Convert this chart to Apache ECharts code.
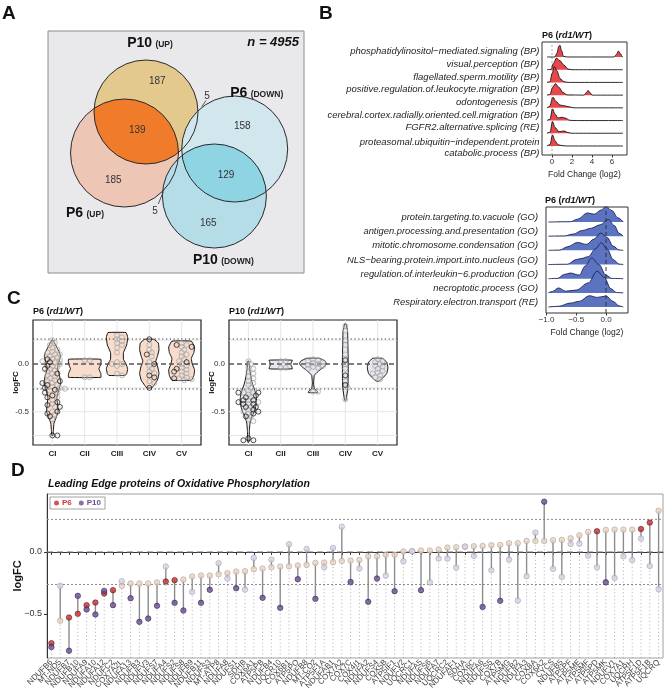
<!DOCTYPE html>
<html><head><meta charset="utf-8">
<script src="https://cdn.jsdelivr.net/npm/echarts@6/dist/echarts.min.js"></script>
<style>html,body{margin:0;padding:0;background:#fff}#c{width:666px;height:695px}</style>
</head><body><div id="c"></div>
<script>
// ================= DATA =================
// Panel A – Venn counts
const vennSetNames = ['P10', 'P6', 'P6', 'P10'];
const vennSetDirs = ['UP', 'UP', 'DOWN', 'DOWN'];
const vennRegionCounts = [187, 139, 185, 158, 129, 165, 5, 5];
const vennTotal = 4955;

// Panel B – ridgelines (density: [log2FC, relative height])
const ridgeUpTerms = [
  'phosphatidylinositol\u2212mediated.signaling (BP)',
  'visual.perception (BP)',
  'flagellated.sperm.motility (BP)',
  'positive.regulation.of.leukocyte.migration (BP)',
  'odontogenesis (BP)',
  'cerebral.cortex.radially.oriented.cell.migration (BP)',
  'FGFR2.alternative.splicing (RE)',
  'proteasomal.ubiquitin\u2212independent.protein\ncatabolic.process (BP)'
];
const ridgeUpRange = [-0.5, 7.1];
const ridgeUpDensity = [
  [[0.3,0],[0.5,0.3],[0.68,0.85],[0.8,0.92],[0.95,0.5],[1.15,0.05],[1.5,0],[6.2,0],[6.45,0.2],[6.65,0.47],[6.85,0.25],[7.02,0.02]],
  [[-0.1,0.02],[0.15,0.5],[0.45,0.92],[0.8,0.7],[1.2,0.35],[1.6,0.05],[2.0,0]],
  [[-0.2,0.05],[0.0,0.7],[0.25,1.25],[0.5,0.9],[0.8,0.3],[1.2,0.05],[1.6,0]],
  [[-0.2,0.05],[0.05,0.6],[0.35,0.9],[0.7,0.6],[1.1,0.2],[1.5,0.02],[3.2,0],[3.45,0.2],[3.6,0.37],[3.8,0.2],[4.0,0]],
  [[-0.25,0.1],[0.1,0.84],[0.4,0.5],[0.8,0.22],[1.3,0.15],[1.7,0.08],[2.2,0]],
  [[-0.2,0.1],[0.05,0.92],[0.3,0.5],[0.6,0.2],[1.0,0.26],[1.3,0.2],[1.8,0.02],[2.2,0]],
  [[-0.2,0.08],[0.05,0.92],[0.3,0.45],[0.7,0.12],[1.2,0.18],[1.6,0.05],[2.0,0]],
  [[-0.2,0.1],[0.05,0.87],[0.3,0.4],[0.6,0.1],[1.0,0.03],[1.4,0]]
];
const ridgeUpTicks = [0, 2, 4, 6];

const ridgeDownTerms = [
  'protein.targeting.to.vacuole (GO)',
  'antigen.processing.and.presentation (GO)',
  'mitotic.chromosome.condensation (GO)',
  'NLS\u2212bearing.protein.import.into.nucleus (GO)',
  'regulation.of.interleukin\u22126.production (GO)',
  'necroptotic.process (GO)',
  'Respiratory.electron.transport (RE)'
];
const ridgeDownRange = [-0.97, 0.29];
const ridgeDownDensity = [
  [[-0.6,0.02],[-0.48,0.2],[-0.31,0.64],[-0.2,0.55],[-0.08,0.85],[0.0,1.1],[0.1,0.8],[0.2,0.3]],
  [[-0.7,0.02],[-0.55,0.15],[-0.4,0.4],[-0.26,0.55],[-0.1,0.8],[0.04,1.18],[0.14,0.75],[0.22,0.2]],
  [[-0.78,0.02],[-0.65,0.25],[-0.48,0.56],[-0.33,0.42],[-0.2,0.8],[-0.09,1.22],[0.02,0.9],[0.12,0.3],[0.22,0.03]],
  [[-0.65,0.02],[-0.5,0.35],[-0.42,0.42],[-0.3,0.55],[-0.18,1.1],[-0.08,1.53],[0.02,1.1],[0.12,0.35],[0.22,0.03]],
  [[-0.82,0.02],[-0.7,0.3],[-0.6,0.4],[-0.45,0.25],[-0.35,0.9],[-0.24,1.46],[-0.12,1.0],[0.0,0.25],[0.1,0.02]],
  [[-0.9,0.1],[-0.8,0.35],[-0.68,0.12],[-0.5,0.2],[-0.3,0.7],[-0.15,1.53],[-0.03,1.1],[0.08,0.3],[0.18,0.02]],
  [[-0.8,0.05],[-0.6,0.28],[-0.45,0.4],[-0.28,0.8],[-0.15,0.68],[0.0,0.78],[0.12,0.4],[0.22,0.08]]
];
const ridgeDownTicks = [-1.0, -0.5, 0.0];

// Panel C – violins ([logFC, half width]) and protein logFC values per complex
const complexes = ['CI', 'CII', 'CIII', 'CIV', 'CV'];
const violinP6Profile = [
  [[0.25,0.02],[0.2,0.1],[0.12,0.22],[0.08,0.25],[0.02,0.2],[-0.05,0.16],[-0.12,0.22],[-0.2,0.26],[-0.27,0.2],[-0.35,0.14],[-0.42,0.16],[-0.5,0.18],[-0.56,0.12],[-0.62,0.05],[-0.7,0.03],[-0.75,0.02]],
  [[0.05,0.5],[0.0,0.5],[-0.05,0.44],[-0.1,0.5],[-0.14,0.5]],
  [[0.33,0.28],[0.28,0.33],[0.2,0.3],[0.12,0.2],[0.05,0.2],[0.0,0.28],[-0.05,0.33],[-0.1,0.3],[-0.12,0.25]],
  [[0.26,0.14],[0.22,0.28],[0.15,0.3],[0.08,0.25],[0.03,0.2],[-0.03,0.26],[-0.1,0.3],[-0.17,0.25],[-0.22,0.15],[-0.25,0.08]],
  [[0.24,0.3],[0.18,0.4],[0.12,0.38],[0.06,0.3],[0.0,0.33],[-0.06,0.4],[-0.12,0.38],[-0.17,0.3]]
];
const violinP10Profile = [
  [[0.03,0.02],[-0.05,0.04],[-0.12,0.07],[-0.2,0.12],[-0.28,0.2],[-0.35,0.25],[-0.42,0.25],[-0.5,0.18],[-0.56,0.1],[-0.62,0.05],[-0.7,0.03],[-0.82,0.02]],
  [[0.04,0.36],[0.0,0.31],[-0.05,0.36]],
  [[0.06,0.2],[0.03,0.38],[0.0,0.42],[-0.04,0.3],[-0.08,0.15],[-0.12,0.04],[-0.2,0.02],[-0.26,0.04],[-0.28,0.12],[-0.3,0.15]],
  [[0.42,0.02],[0.35,0.07],[0.2,0.08],[0.05,0.09],[-0.1,0.09],[-0.25,0.08],[-0.38,0.02]],
  [[0.06,0.15],[0.02,0.28],[-0.04,0.32],[-0.1,0.28],[-0.15,0.15],[-0.18,0.04]]
];
const p6GreyFC = [
  [0.25,0.22,0.2,0.17,0.15,0.13,0.12,0.1,0.1,0.08,0.07,0.05,0.04,0.03,0.02,0.0,-0.02,-0.03,-0.05,-0.07,-0.08,-0.1,-0.12,-0.13,-0.15,-0.17,-0.18,-0.2,-0.22,-0.24,-0.25,-0.26,-0.28,-0.3,-0.35,-0.38,-0.42,-0.45,-0.5,-0.53,-0.58],
  [0.04,0.04,-0.14,-0.14],
  [0.3,0.28,0.26,0.24,0.22,0.2,0.17,0.12,0.02,0.0,0.0,-0.02,-0.1,-0.12],
  [0.2,0.15,0.12,0.08,0.02,-0.02,-0.05,-0.08,-0.1,-0.18,-0.2],
  [0.22,0.2,0.18,0.15,0.12,0.1,0.08,0.05,0.03,0.0,-0.02,-0.04,-0.06,-0.08,-0.1,-0.12,-0.14,-0.15,-0.16,-0.17]
];
const p6SigFC = [
  [0.05,0.02,-0.02,-0.05,-0.1,-0.18,-0.2,-0.22,-0.25,-0.27,-0.3,-0.33,-0.35,-0.4,-0.43,-0.45,-0.5,-0.52,-0.55,-0.75,-0.75],
  [], [], [0.26,0.1,0.0,-0.12,-0.14,-0.25], [0.2,0.18,0.02,-0.05,-0.08,-0.15]
];
const p10GreyFC = [
  [0.03,0.0,-0.03,-0.05,-0.08,-0.1,-0.13,-0.15,-0.18,-0.2,-0.22,-0.25,-0.28,-0.3,-0.3,-0.32,-0.35,-0.38,-0.4,-0.42,-0.45,-0.48,-0.5,-0.52,-0.55,-0.58,-0.6],
  [0.03,0.03,-0.04,-0.04],
  [0.05,0.04,0.03,0.02,0.01,0.0,-0.01,-0.02,-0.03,-0.04,-0.05,-0.29,-0.29],
  [0.4,0.35,0.25,0.2,0.1,0.0,-0.05,-0.18,-0.25,-0.37],
  [0.05,0.03,0.02,0.0,-0.02,-0.03,-0.05,-0.07,-0.09,-0.1,-0.12,-0.14,-0.16]
];
const p10SigFC = [
  [-0.3,-0.3,-0.33,-0.35,-0.38,-0.38,-0.4,-0.42,-0.42,-0.45,-0.45,-0.48,-0.5,-0.52,-0.55,-0.78,-0.8,-0.8],
  [], [], [0.04,-0.12,-0.22], []
];
const fcThreshold = 0.263;

// Panel D – leading edge proteins
const oxphosGenes = ['NDUFB6','MT-ND5','NDUFB7','NDUFB10','NDUFA9','NDUFA10','NDUFA12','NDUFC2','COX7A2L','NDUFA13',
  'NDUFB3','NDUFV3','NDUFS7','NDUFA4','NDUFS2','NDUFS8','NDUFB9','NDUFB11','NDUFS3','MT-ATP8',
  'NDUFA8','NDUFS1','SDHB','COX6A1','ATP5PB','NDUFB4','UQCR10','COX6B1','ATP5PO','NDUFB8',
  'MT-CO2','ATP5F1A','NDUFAB1','COX7A2','COX7C','COX4I1','NDUFA2','NDUFS4','COX5B','ATP5IF1',
  'NDUFV2','UQCRC1','NDUFA5','NDUFS6','NDUFA7','UQCRC2','NDUFAF1','SDHA','COX6C','NDUFA6',
  'NDUFS5','COX7B','ATP5MG','NDUFB2','NDUFA3','COX8A','COX6A2','CYCS','NDUFB5','ATP5PF',
  'ATP5ME','ATP5MF','ATP5PD','ATP5MK','NDUFV1','COX7A1','UQCRH','ATP5F1D','ATP5F1B','UQCRQ'];
const lfcP6 = [-0.737,-0.556,-0.530,-0.500,-0.430,-0.409,-0.336,-0.309,-0.274,-0.255,
  -0.255,-0.255,-0.247,-0.239,-0.228,-0.223,-0.199,-0.191,-0.191,-0.180,
  -0.172,-0.159,-0.156,-0.140,-0.134,-0.124,-0.118,-0.116,-0.110,-0.105,
  -0.089,-0.086,-0.083,-0.073,-0.070,-0.065,-0.035,-0.035,-0.022,-0.022,
  0.003,0.005,0.011,0.011,0.019,0.035,0.038,0.043,0.046,0.048,
  0.054,0.056,0.070,0.070,0.089,0.089,0.089,0.094,0.097,0.110,
  0.134,0.161,0.167,0.177,0.180,0.180,0.180,0.185,0.237,0.333];
const lfcP10 = [-0.769,-0.274,-0.798,-0.355,-0.465,-0.505,-0.315,-0.430,-0.237,-0.374,
  -0.565,-0.538,-0.435,-0.118,-0.411,-0.473,-0.323,-0.411,-0.306,-0.091,
  -0.215,-0.293,-0.304,-0.048,-0.371,-0.062,-0.452,0.062,-0.220,0.024,
  -0.379,-0.124,0.032,0.204,-0.242,-0.134,-0.403,-0.215,-0.191,-0.317,
  -0.075,0.005,-0.309,-0.245,-0.054,-0.054,-0.126,0.043,-0.032,-0.444,
  -0.148,-0.395,-0.062,-0.392,-0.196,0.156,0.406,-0.137,-0.202,0.065,
  0.067,-0.030,-0.124,-0.245,-0.210,-0.035,-0.065,0.108,-0.113,-0.301];
const sigP6 = [1,0,1,1,1,1,1,1,0,0, 0,0,0,1,1,0,0,0,0,0, 0,0,0,0,0,0,0,0,0,0, 0,0,0,0,0,0,0,0,0,0,
  0,0,0,0,0,0,0,0,0,0, 0,0,0,0,0,0,0,0,0,0, 0,0,1,0,0,0,0,1,1,0];
const sigP10 = [1,0,1,1,1,1,1,1,0,1, 1,1,1,0,1,1,0,1,1,0, 0,1,0,0,1,0,1,0,1,0, 1,0,0,0,1,0,1,1,0,1,
  0,0,1,0,0,0,0,0,0,1, 0,1,0,0,0,0,1,0,0,0, 0,0,0,1,0,0,0,0,0,0];

// ================= LAYOUT / STYLE =================
const FONT = "'Liberation Sans', Arial, Helvetica, sans-serif";
const vennCircles = [[98,81,52],[76.5,122,54],[186.7,118,53],[166.4,165,52]];
const vennFills = ['#e3c98d','#edc6b6','#d2e6ee','#b5dde8'];
const vennLenses = [[0,1,'#f07b2b'],[2,3,'#8fd4e2']];
const vennCountPos = [[109.3,50],[89.3,99.7],[65.3,149],[194.3,95.7],[178,144],[160.3,192.3],[159,65.7],[107,180.3]];
const vennLeaders = [[153.7,75.7,158,69.5],[115.3,160.7,110.3,173]];
const vennSetPos = [[102,12],[37,182.3],[208.7,62.3],[175.3,229]];

function arcPts(c, p, q, toward, pts, n) {
  const TWO = 2 * Math.PI;
  const a1 = Math.atan2(p.y - c.y, p.x - c.x), a2 = Math.atan2(q.y - c.y, q.x - c.x);
  const am = Math.atan2(toward.y - c.y, toward.x - c.x);
  let d = a2 - a1; while (d <= -Math.PI) d += TWO; while (d > Math.PI) d -= TWO;
  let rel = am - a1;
  if (d > 0) { while (rel < 0) rel += TWO; while (rel >= TWO) rel -= TWO; if (rel > d) d -= TWO; }
  else { while (rel > 0) rel -= TWO; while (rel <= -TWO) rel += TWO; if (rel < d) d += TWO; }
  for (let i = 0; i <= n; i++) { const a = a1 + d * i / n; pts.push([c.x + c.r * Math.cos(a), c.y + c.r * Math.sin(a)]); }
}
function lensPts(A, B) {
  const dx = B.x - A.x, dy = B.y - A.y, d = Math.hypot(dx, dy);
  const a = (A.r * A.r - B.r * B.r + d * d) / (2 * d);
  const h = Math.sqrt(Math.max(0, A.r * A.r - a * a));
  const mx = A.x + a * dx / d, my = A.y + a * dy / d;
  const P = {x: mx - h * dy / d, y: my + h * dx / d}, Q = {x: mx + h * dy / d, y: my - h * dx / d};
  const pts = [];
  arcPts(A, P, Q, B, pts, 48); arcPts(B, Q, P, A, pts, 48);
  return pts;
}

// ---- grids
const grids = [
  {left:48, top:31, width:256, height:242, show:true, backgroundColor:'#e9e9eb', borderColor:'#8c8c8c', borderWidth:1},
  {left:542, top:42, width:85, height:113, show:true, borderColor:'#333', borderWidth:1},
  {left:546, top:207, width:82, height:106, show:true, borderColor:'#333', borderWidth:1},
  {left:33, top:320, width:168, height:125, show:true, borderColor:'#222', borderWidth:1.2},
  {left:229, top:320, width:168, height:125, show:true, borderColor:'#222', borderWidth:1.2},
  {left:47, top:494, width:616, height:164, show:true, borderColor:'#a0a0a0', borderWidth:1}
];

function ridgeYAxis(gi, min, max) {
  return {gridIndex:gi, type:'value', min, max, axisLine:{show:false}, splitLine:{show:false}, axisTick:{show:false}, axisLabel:{show:false}};
}
function ridgeSeries(gi, terms, dens, range, fill, stroke) {
  const N = terms.length;
  return dens.map((pts, i) => {
    const b = N - i;
    const data = [[range[0], b]].concat(pts.map(p => [p[0], b + p[1]]), [[range[1], b]]);
    return {type:'line', xAxisIndex:gi, yAxisIndex:gi, data, smooth:0.35, smoothMonotone:'x', symbol:'none', silent:true, z:2,
      lineStyle:{color:stroke, width:0.9}, areaStyle:{color:fill, opacity:1, origin:b}};
  });
}
function ridgeLabels(gi, terms, lift, gap, fs) {
  const N = terms.length;
  return {type:'custom', xAxisIndex:gi, yAxisIndex:gi, silent:true, clip:false, z:7,
    data:terms.map((t, i) => [0, N - i]),
    renderItem:(params, api) => {
      const t = terms[params.dataIndex], cs = params.coordSys;
      const y = api.coord([0, api.value(1)])[1];
      const two = t.indexOf('\n') >= 0;
      return {type:'text', x:cs.x - gap, y:y + (two ? 1.5 : -lift),
        style:{text:t, align:'right', verticalAlign:'middle', fontSize:fs, fontStyle:'italic', fill:'#1e1e1e', lineHeight:11, fontFamily:FONT}};
    }};
}

// ---- panel C helpers
const C_PX_X = 168 / 5.2, C_PX_Y = 125 / (0.462 + 0.85);
function swarmOffsets(vals) {
  const placed = [], out = [], diam = 3.4, step = 2.5;
  vals.forEach(v => {
    const py = v * C_PX_Y; let dx = 0;
    for (let n = 0; n < 80; n++) {
      const k = Math.ceil(n / 2), cand = n === 0 ? 0 : (n % 2 ? k * step : -k * step);
      if (placed.every(p => (p[0] - cand) * (p[0] - cand) + (p[1] - py) * (p[1] - py) >= diam * diam)) { dx = cand; break; }
    }
    placed.push([dx, py]); out.push(dx / C_PX_X);
  });
  return out;
}
function cPanelSeries(gi, profiles, grey, sig, fill) {
  const s = [];
  s.push({type:'custom', xAxisIndex:gi, yAxisIndex:gi, z:1, silent:true, data:[[0,0]],
    renderItem:(params, api) => {
      const cs = params.coordSys, ch = [];
      [-0.75,-0.5,-0.25,0.25].forEach(v => { const y = api.coord([0, v])[1];
        ch.push({type:'line', shape:{x1:cs.x, y1:y, x2:cs.x + cs.width, y2:y}, style:{stroke:'#e3e3e3', lineWidth:0.9}}); });
      complexes.forEach((c, i) => { const x = api.coord([i, 0])[0];
        ch.push({type:'line', shape:{x1:x, y1:cs.y, x2:x, y2:cs.y + cs.height}, style:{stroke:'#e3e3e3', lineWidth:0.9}}); });
      return {type:'group', children:ch};
    }});
  s.push({type:'custom', xAxisIndex:gi, yAxisIndex:gi, z:2, silent:true, data:complexes.map((c, i) => [i, 0]),
    renderItem:(params, api) => {
      const i = params.dataIndex, prof = profiles[i];
      const right = prof.map(p => api.coord([i + p[1], p[0]]));
      const left = prof.slice().reverse().map(p => api.coord([i - p[1], p[0]]));
      return {type:'polygon', shape:{points:right.concat(left), smooth:0.1}, style:{fill, stroke:'#111', lineWidth:1}};
    }});
  s.push({type:'custom', xAxisIndex:gi, yAxisIndex:gi, z:3, silent:true, data:[[0,0]],
    renderItem:(params, api) => {
      const cs = params.coordSys, ch = [];
      [[0,[5,3],1.4,'#555'],[fcThreshold,[1.2,2.6],1.1,'#333'],[-fcThreshold,[1.2,2.6],1.1,'#333']].forEach(r => {
        const y = api.coord([0, r[0]])[1];
        ch.push({type:'line', shape:{x1:cs.x, y1:y, x2:cs.x + cs.width, y2:y}, style:{stroke:r[3], lineWidth:r[2], lineDash:r[1]}});
      });
      return {type:'group', children:ch};
    }});
  const greyData = [], sigData = [];
  complexes.forEach((c, i) => {
    const all = grey[i].map(v => ({v, s:0})).concat(sig[i].map(v => ({v, s:1}))).sort((a, b) => b.v - a.v);
    const offs = swarmOffsets(all.map(o => o.v));
    all.forEach((o, k) => (o.s ? sigData : greyData).push([i + offs[k], o.v]));
  });
  s.push({type:'scatter', xAxisIndex:gi, yAxisIndex:gi, z:4, silent:true, symbolSize:5, data:greyData,
    itemStyle:{color:'rgba(225,225,225,0.35)', borderColor:'#9a9a9a', borderWidth:0.8}});
  s.push({type:'scatter', xAxisIndex:gi, yAxisIndex:gi, z:5, silent:true, symbolSize:5, data:sigData,
    itemStyle:{color:'rgba(200,200,200,0.25)', borderColor:'#111', borderWidth:0.9}});
  return s;
}
function cXAxis(gi) {
  return {gridIndex:gi, type:'value', min:-0.6, max:4.6, axisLine:{show:false}, splitLine:{show:false},
    axisTick:{show:true, customValues:[0,1,2,3,4], length:3, lineStyle:{color:'#333'}},
    axisLabel:{customValues:[0,1,2,3,4], showMinLabel:true, showMaxLabel:true, formatter:v => complexes[Math.round(v)], fontSize:8, fontWeight:'bold', color:'#222', margin:5}};
}
function cYAxis(gi) {
  return {gridIndex:gi, type:'value', min:-0.85, max:0.462, axisLine:{show:false}, splitLine:{show:false},
    axisTick:{show:true, customValues:[0,-0.5], length:3, lineStyle:{color:'#333'}},
    axisLabel:{customValues:[0,-0.5], showMinLabel:true, showMaxLabel:true, formatter:v => v.toFixed(1), fontSize:8, color:'#333', margin:4},
    name:'logFC', nameLocation:'middle', nameRotate:90, nameGap:13, nameMoveOverlap:false, nameTextStyle:{fontSize:8, fontWeight:'bold', color:'#111'}};
}
const rich9 = {b:{fontSize:9, fontWeight:'bold', color:'#111', fontFamily:FONT}, i:{fontSize:9, fontWeight:'bold', fontStyle:'italic', color:'#111', fontFamily:FONT}};
const ptitle = (label, left, top) => ({text:'{b|' + label + ' (}{i|rd1/WT}{b|)}', left, top, padding:0, textStyle:{rich:rich9}});
const letter = (t, left, top) => ({text:t, left, top, padding:0, textStyle:{fontSize:19, fontWeight:'bold', color:'#111', fontFamily:FONT}});

const option = {
  animation:false,
  textStyle:{fontFamily:FONT},
  title:[
    letter('A', 2, 4), letter('B', 319, 4), letter('C', 7, 289), letter('D', 11, 461),
    ptitle('P6', 542, 31), ptitle('P6', 545, 196), ptitle('P6', 33, 307), ptitle('P10', 229, 307),
    {text:'Leading Edge proteins of Oxidative Phosphorylation', left:48, top:479, padding:0,
      textStyle:{fontSize:10.5, fontWeight:'bold', fontStyle:'italic', color:'#111'}}
  ],
  legend:{left:50, top:497, orient:'horizontal', itemWidth:5, itemHeight:5, itemGap:7, padding:[2,4,2,4],
    borderColor:'#8a8a8a', borderWidth:0.8, selectedMode:false,
    textStyle:{fontSize:8, fontWeight:'bold', padding:[0,0,0,-2]},
    data:[{name:'P6', icon:'circle', textStyle:{color:'#d0363a'}}, {name:'P10', icon:'circle', textStyle:{color:'#6a4c93'}}]},
  grid:grids,
  xAxis:[
    {gridIndex:0, type:'value', min:0, max:256, show:false},
    {gridIndex:1, type:'value', min:-1.0, max:7.5, axisLine:{show:false}, splitLine:{show:false},
      axisTick:{show:true, customValues:ridgeUpTicks, length:2.5, lineStyle:{color:'#333'}},
      axisLabel:{customValues:ridgeUpTicks, showMinLabel:true, showMaxLabel:true, fontSize:8, color:'#333', margin:3},
      name:'Fold Change (log2)', nameLocation:'middle', nameGap:15, nameMoveOverlap:false, nameTextStyle:{fontSize:8.5, color:'#222'}},
    {gridIndex:2, type:'value', min:-1.01, max:0.37, axisLine:{show:false}, splitLine:{show:false},
      axisTick:{show:true, customValues:ridgeDownTicks, length:2.5, lineStyle:{color:'#333'}},
      axisLabel:{customValues:ridgeDownTicks, showMinLabel:true, showMaxLabel:true, formatter:v => (v < 0 ? '\u2212' : '') + Math.abs(v).toFixed(1), fontSize:8, color:'#333', margin:3},
      name:'Fold Change (log2)', nameLocation:'middle', nameGap:15, nameMoveOverlap:false, nameTextStyle:{fontSize:8.5, color:'#222'}},
    cXAxis(3), cXAxis(4),
    {gridIndex:5, type:'category', data:oxphosGenes, boundaryGap:true,
      axisLine:{show:true, lineStyle:{color:'#333', width:1}}, splitLine:{show:false},
      axisTick:{show:true, alignWithLabel:true, interval:0, length:3, lineStyle:{color:'#333'}},
      axisLabel:{interval:0, rotate:45, fontSize:8, color:'#444', margin:3}}
  ],
  yAxis:[
    {gridIndex:0, type:'value', min:0, max:242, inverse:true, show:false},
    ridgeYAxis(1, 0.29, 9.18),
    ridgeYAxis(2, 0.58, 8.06),
    cYAxis(3), cYAxis(4),
    {gridIndex:5, type:'value', min:-0.857, max:0.468, axisLine:{show:true, lineStyle:{color:'#333', width:1}}, splitLine:{show:false},
      axisTick:{show:true, customValues:[0,-0.5], length:3, lineStyle:{color:'#333'}},
      axisLabel:{customValues:[0,-0.5], showMinLabel:true, showMaxLabel:true, formatter:v => (v < 0 ? '\u2212' : '') + Math.abs(v).toFixed(1), fontSize:9, color:'#333', margin:5},
      name:'logFC', nameLocation:'middle', nameRotate:90, nameGap:24, nameMoveOverlap:false, nameTextStyle:{fontSize:11, fontWeight:'bold', color:'#111'}}
  ],
  series:[]
};

// Panel A series
option.series.push({type:'custom', xAxisIndex:0, yAxisIndex:0, silent:true, data:[[0,0]],
  renderItem:(params, api) => {
    const C = vennCircles.map(c => { const p = api.coord([c[0], c[1]]); return {x:p[0], y:p[1], r:api.size([c[2], 0])[0]}; });
    const ch = [];
    C.forEach((c, i) => ch.push({type:'circle', shape:{cx:c.x, cy:c.y, r:c.r}, style:{fill:vennFills[i]}}));
    vennLenses.forEach(l => ch.push({type:'polygon', shape:{points:lensPts(C[l[0]], C[l[1]])}, style:{fill:l[2]}}));
    C.forEach(c => ch.push({type:'circle', shape:{cx:c.x, cy:c.y, r:c.r}, style:{fill:'none', stroke:'#2a2a2a', lineWidth:1}}));
    vennLeaders.forEach(l => { const a = api.coord([l[0], l[1]]), b = api.coord([l[2], l[3]]);
      ch.push({type:'line', shape:{x1:a[0], y1:a[1], x2:b[0], y2:b[1]}, style:{stroke:'#333', lineWidth:0.8}}); });
    vennRegionCounts.forEach((n, i) => { const p = api.coord(vennCountPos[i]);
      ch.push({type:'text', x:p[0], y:p[1], style:{text:String(n), fontSize:10, fill:'#333', align:'center', verticalAlign:'middle', fontFamily:FONT}}); });
    vennSetNames.forEach((n, i) => { const p = api.coord(vennSetPos[i]);
      ch.push({type:'text', x:p[0], y:p[1], style:{text:'{a|' + n + '} {b|(' + vennSetDirs[i] + ')}', align:'center', verticalAlign:'middle',
        rich:{a:{fontSize:14, fontWeight:'bold', fill:'#111', fontFamily:FONT, verticalAlign:'bottom'},
              b:{fontSize:8.5, fontWeight:'bold', fill:'#222', fontFamily:FONT, verticalAlign:'bottom', padding:[0,0,1,0]}}}}); });
    const np = api.coord([251, 11.7]);
    ch.push({type:'text', x:np[0], y:np[1], style:{text:'n = ' + vennTotal, fontSize:13, fontWeight:'bold', fontStyle:'italic', fill:'#111', align:'right', verticalAlign:'middle', fontFamily:FONT}});
    return {type:'group', children:ch};
  }});

// Panel B series
option.series.push({type:'line', xAxisIndex:1, yAxisIndex:1, z:1, silent:true, symbol:'none', data:[[0,0.29],[0,9.18]],
  lineStyle:{color:'#999', width:0.8, type:[2,2]}});
option.series.push(...ridgeSeries(1, ridgeUpTerms, ridgeUpDensity, ridgeUpRange, '#e8474b', '#151515'));
option.series.push(...ridgeSeries(2, ridgeDownTerms, ridgeDownDensity, ridgeDownRange, '#5b73c1', '#1b2450'));
option.series.push({type:'line', xAxisIndex:2, yAxisIndex:2, z:6, silent:true, symbol:'none', data:[[0,0.58],[0,8.06]],
  lineStyle:{color:'#333', width:1, type:[4,3]}});
option.series.push(ridgeLabels(1, ridgeUpTerms, 5.5, 2.5, 9.5));
option.series.push(ridgeLabels(2, ridgeDownTerms, 4.6, 8, 9.4));

// Panel C series
option.series.push(...cPanelSeries(3, violinP6Profile, p6GreyFC, p6SigFC, '#f9ddcc'));
option.series.push(...cPanelSeries(4, violinP10Profile, p10GreyFC, p10SigFC, '#e9e7f0'));

// Panel D series
option.series.push({type:'custom', xAxisIndex:5, yAxisIndex:5, z:1, silent:true, data:[[0,0]],
  renderItem:(params, api) => {
    const cs = params.coordSys, ch = [];
    [[0,[6,4],1,'#808080'],[fcThreshold,[2,2],1,'#8a8a8a'],[-fcThreshold,[2,2],1,'#8a8a8a']].forEach(r => {
      const y = api.coord([0, r[0]])[1];
      ch.push({type:'line', shape:{x1:cs.x, y1:y, x2:cs.x + cs.width, y2:y}, style:{stroke:r[3], lineWidth:r[2], lineDash:r[1]}});
    });
    return {type:'group', children:ch};
  }});
option.series.push({type:'custom', xAxisIndex:5, yAxisIndex:5, z:2, silent:true,
  data:oxphosGenes.map((g, i) => [i, lfcP6[i], lfcP10[i]]), encode:{x:0, y:[1,2]},
  renderItem:(params, api) => {
    const i = api.value(0), a = api.value(1), b = api.value(2);
    const lo = Math.min(a, b), hi = Math.max(a, b);
    const pb = api.coord([i, -0.857]), pl = api.coord([i, lo]), ph = api.coord([i, hi]);
    return {type:'group', children:[
      {type:'line', shape:{x1:pb[0], y1:pb[1], x2:pl[0], y2:pl[1]}, style:{stroke:'#9a9a9a', lineWidth:0.8, lineDash:[1,2.6]}},
      {type:'line', shape:{x1:pl[0], y1:pl[1], x2:ph[0], y2:ph[1]}, style:{stroke:'#8c8c8c', lineWidth:1.4}}
    ]};
  }});
option.series.push({type:'scatter', name:'P6', xAxisIndex:5, yAxisIndex:5, z:3, silent:true, symbolSize:5.5,
  itemStyle:{color:'#cc2b30'},
  data:lfcP6.map((v, i) => ({value:[i, v], itemStyle:sigP6[i] ? {color:'#cc2b30', borderColor:'#4a1515', borderWidth:0.7} : {color:'#ebd4c4', borderColor:'#a8968c', borderWidth:0.7}}))});
option.series.push({type:'scatter', name:'P10', xAxisIndex:5, yAxisIndex:5, z:4, silent:true, symbolSize:5.5,
  itemStyle:{color:'#6a4c93'},
  data:lfcP10.map((v, i) => ({value:[i, v], itemStyle:sigP10[i] ? {color:'#6a4c93', borderColor:'#2a1d45', borderWidth:0.7} : {color:'#d8d4e6', borderColor:'#9c97ad', borderWidth:0.7}}))});

const chart = echarts.init(document.getElementById('c'));
chart.setOption(option);
</script>
</body></html>
